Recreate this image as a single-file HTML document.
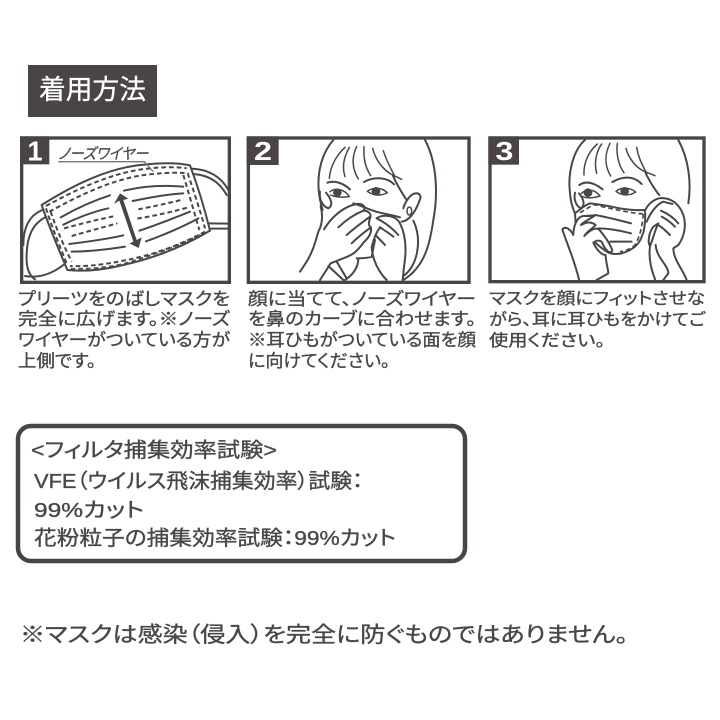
<!DOCTYPE html>
<html lang="ja">
<head>
<meta charset="utf-8">
<title>着用方法</title>
<style>
html,body{margin:0;padding:0;background:#fff;width:720px;height:720px;overflow:hidden}
svg{display:block}
text{font-family:"Liberation Sans","Noto Sans CJK JP",sans-serif;fill:#4a4646;font-feature-settings:"palt"}
.b text{stroke:#4a4646;stroke-width:.35px}
.l{fill:none;stroke:#4a4646;stroke-width:6;stroke-linecap:round;stroke-linejoin:round}
.t{fill:none;stroke:#4a4646;stroke-width:4.5;stroke-linecap:round;stroke-linejoin:round}
.d{fill:none;stroke:#4a4646;stroke-width:6;stroke-dasharray:14 9}
.f{fill:#fff}
.num{font-weight:bold}
</style>
</head>
<body>
<svg width="720" height="720" viewBox="0 0 720 720" xmlns="http://www.w3.org/2000/svg">
<rect width="720" height="720" fill="#fff"/>

<!-- header -->
<rect x="28" y="65" width="129" height="52" fill="#4a4444"/>
<text x="39" y="99" font-size="27" textLength="107" lengthAdjust="spacingAndGlyphs" style="fill:#fff;stroke:#fff;stroke-width:.3px">着用方法</text>

<!-- panel 1 -->
<g transform="translate(10,130) scale(.33333)">
  <rect x="35" y="24" width="623" height="433" fill="#fff" stroke="#4a4444" stroke-width="10"/>
  <path class="l" d="M545 116C590 118 630 135 655 180M550 132C590 135 625 150 650 195"/>
  <path class="l" d="M598 280L656 281M604 296L656 296"/>
  <path class="l" d="M97 240C60 255 40 290 40 345M105 262C70 280 52 315 50 370C48 410 55 435 75 448"/>
  <path class="l" d="M160 405C125 432 85 445 45 438"/>
  <path class="l f" d="M95 225C190 165 300 110 410 103C460 98 505 98 540 106C560 160 585 240 600 302C520 350 430 385 340 405C280 420 220 425 172 420C145 355 115 285 95 225Z"/>
  <path class="d" d="M108 228C200 178 310 125 420 115C460 111 500 110 530 115"/>
  <path class="d" d="M118 245C210 195 320 140 430 132C470 128 510 127 535 130"/>
  <path class="d" d="M533 130C550 180 570 240 585 295"/>
  <path class="d" d="M520 135C535 185 552 245 568 300"/>
  <path class="d" d="M585 305C510 345 430 375 340 392C280 405 220 410 180 408"/>
  <path class="d" d="M570 315C500 350 420 378 340 402C280 415 220 418 178 416" opacity=".9"/>
  <path class="d" d="M108 235C125 290 150 350 172 405"/>
  <path class="d" d="M122 245C140 300 165 355 185 395"/>
  <path class="l" d="M152 262C200 235 250 212 300 196M160 284C205 262 250 245 295 235"/>
  <path class="l" d="M342 182C400 168 460 165 520 170M368 213C420 202 470 193 520 190"/>
  <path class="d" d="M162 295C210 282 265 268 315 258"/>
  <path class="d" d="M185 318C230 305 280 292 322 280"/>
  <path class="d" d="M385 238C425 230 475 220 520 208"/>
  <path class="d" d="M382 266C430 258 490 245 535 232"/>
  <path class="l" d="M388 302C440 285 490 265 540 245M408 334C460 315 510 295 565 265"/>
  <path class="l" d="M178 342C235 335 290 328 340 316M185 365C240 365 295 358 345 350"/>
  <path fill="#4a4444" d="M330 190L355 206L340 210L380 330L395 322L386 354L358 340L370 335L328 212L312 222Z"/>
  <path fill="none" stroke="#777" stroke-width="4" d="M145 95H403L430 125"/>
  <rect x="30" y="19" width="88" height="84" fill="#4a4444"/>
  <text class="num" x="52" y="92" font-size="82" style="fill:#fff">1</text>
  <text x="145" y="87" font-size="46" textLength="270" lengthAdjust="spacingAndGlyphs" font-style="italic" style="stroke:#4a4646;stroke-width:.8px">ノーズワイヤー</text>
</g>

<!-- panel 2 -->
<g transform="translate(240,130) scale(.33333)">
  <rect x="25" y="24" width="662" height="433" fill="#fff" stroke="#4a4444" stroke-width="10"/>
  <path class="l" d="M280 30C245 70 232 125 236 180C238 205 242 220 248 240"/>
  <path class="l" d="M555 30C590 95 595 190 580 270C570 340 555 410 490 450"/>
  <path class="t" d="M315 52C290 75 270 110 268 145M328 52C312 80 305 110 315 140M350 50C335 80 335 115 355 147M372 50C370 85 375 110 392 137M398 55C405 85 425 115 452 132L485 148M430 62C440 95 455 120 465 140"/>
  <path class="l" d="M458 135C470 165 490 195 503 215"/>
  <path class="l" d="M262 158C285 150 310 160 330 178"/>
  <path class="l" d="M372 156C400 140 440 140 462 163"/>
  <path class="t" d="M270 185C285 172 315 178 328 200C310 202 285 202 272 195"/>
  <ellipse cx="292" cy="188" rx="13" ry="12" fill="#4a4646"/>
  <path class="t" d="M382 184C400 170 425 172 442 188C425 198 400 198 382 184Z"/>
  <ellipse cx="408" cy="184" rx="13" ry="13" fill="#4a4646"/>
  <rect x="20" y="19" width="96" height="86" fill="#4a4444"/>
  <text class="num" x="42" y="90" font-size="78" textLength="54" lengthAdjust="spacingAndGlyphs" style="fill:#fff">2</text>
</g>
<g transform="translate(300,190) scale(.33333)">
  <path class="l f" d="M305 95C330 92 350 60 362 22C360 5 340 5 325 25C318 35 312 45 310 55"/>
  <ellipse cx="328" cy="63" rx="7" ry="12" class="t"/>
  <path class="l" d="M340 92C368 150 352 230 310 258"/>
  <path class="l" d="M160 40C190 50 210 60 232 66C255 72 280 76 300 82"/>
  <path class="l" d="M170 205C185 205 205 203 218 200M225 150L215 200"/>
  <path class="l" d="M60 5C56 30 70 50 85 55C102 45 92 25 78 8"/>
  <path class="l f" d="M62 48C70 80 66 105 55 125C45 160 38 185 20 215L0 245"/>
  <path class="l" d="M72 118C95 80 130 50 170 42C188 40 200 50 190 62C205 62 216 72 210 85C205 98 206 108 213 115C215 130 205 145 190 158C182 170 172 182 158 192C135 205 110 212 92 220L60 270"/>
  <path class="l" d="M115 112C140 88 165 72 190 62M140 135C165 112 190 95 210 80M155 160C175 140 195 125 213 112"/>
  <path class="l" d="M230 85C250 70 290 78 300 100C315 130 322 170 312 230L308 270"/>
  <path class="l" d="M230 85C250 95 275 112 295 135M240 112C255 122 268 130 280 140M226 135C236 145 246 155 255 165"/>
  <path class="l" d="M215 172C220 150 226 130 240 112M215 172C218 210 235 245 260 270"/>
  <path class="l" d="M85 228L130 270M110 215L140 265M175 205C175 240 150 260 135 270"/>
</g>

<!-- panel 3 -->
<g transform="translate(480,130) scale(.33333)">
  <rect x="30" y="24" width="642" height="431" fill="#fff" stroke="#4a4444" stroke-width="10"/>
  <path class="l" d="M315 30C280 60 262 130 270 190C272 215 278 235 285 250"/>
  <path class="l" d="M595 30C625 85 635 155 625 220"/>
  <path class="t" d="M352 42C325 65 310 100 312 135M365 42C348 65 342 100 350 130M390 40C375 70 372 105 392 138M412 40C408 70 415 105 432 128M438 55C445 85 470 115 495 125L525 137M470 52C475 85 490 110 500 130"/>
  <path class="l" d="M497 130C510 155 525 180 538 195"/>
  <path class="l" d="M298 165C320 150 345 160 368 178"/>
  <path class="l" d="M397 156C425 140 460 135 485 162"/>
  <path class="t" d="M305 190C320 175 345 178 360 198C340 205 320 205 308 200"/>
  <ellipse cx="324" cy="188" rx="13" ry="13" fill="#4a4646"/>
  <path class="t" d="M408 184C425 170 448 172 467 186C450 198 425 198 408 184Z"/>
  <ellipse cx="434" cy="184" rx="13" ry="13" fill="#4a4646"/>
  <rect x="25" y="19" width="92" height="85" fill="#4a4444"/>
  <text class="num" x="46" y="90" font-size="78" textLength="54" lengthAdjust="spacingAndGlyphs" style="fill:#fff">3</text>
</g>
<g transform="translate(555,190) scale(.33333)">
  <path class="l" d="M60 8C55 30 65 50 78 55C92 45 85 25 72 10"/>
  <path class="l f" d="M60 70C80 55 90 45 105 40C125 42 150 46 170 50C205 58 240 62 270 60C272 90 268 125 262 135C255 160 235 180 200 190C185 193 170 192 160 188C130 170 90 130 62 100Z"/>
  <path class="d" d="M75 68C90 60 105 48 120 44C135 48 150 52 170 56C205 64 240 70 265 72" style="stroke-width:5"/>
  <path class="d" d="M265 72C262 100 258 135 240 165C225 178 210 183 195 185" style="stroke-width:5"/>
  <path class="l" d="M120 75C150 80 190 90 228 100M130 115C160 115 190 120 228 130M165 155L230 155"/>
  <path class="l f" d="M22 118C30 108 45 115 55 135C55 110 65 80 85 78L120 76C105 88 85 95 78 105C95 95 110 95 122 105C110 118 95 125 88 138C105 120 125 108 135 122C150 140 165 160 172 182C165 195 150 180 140 155C132 150 125 150 115 158C125 180 140 195 152 195C152 215 160 240 160 250L125 270M22 118C35 160 55 200 72 268"/>
  <path class="l f" d="M270 62C280 40 300 25 320 24C350 25 372 40 385 75C395 105 388 140 370 165L355 175C355 210 385 240 395 270"/>
  <path class="l" d="M275 95C290 60 310 40 325 35L352 42M318 62C340 72 358 85 370 100M320 80C335 88 350 100 360 110M310 105C322 112 335 125 345 135"/>
  <path class="l f" d="M310 100C298 125 295 145 285 168C278 158 280 130 295 110Z"/>
  <path class="l" d="M285 168C280 210 290 240 300 268M302 165C305 205 340 225 340 250L325 270"/>
</g>

<!-- captions -->
<g class="b" font-size="17.5">
  <text x="18" y="305" textLength="212" lengthAdjust="spacingAndGlyphs">プリーツをのばしマスクを</text>
  <text x="18" y="325" textLength="212" lengthAdjust="spacingAndGlyphs">完全に広げます。※ノーズ</text>
  <text x="18" y="346" textLength="212" lengthAdjust="spacingAndGlyphs">ワイヤーがついている方が</text>
  <text x="18" y="367" textLength="78" lengthAdjust="spacingAndGlyphs">上側です。</text>

  <text x="248" y="305" textLength="228" lengthAdjust="spacingAndGlyphs">顔に当てて、ノーズワイヤー</text>
  <text x="248" y="325" textLength="228" lengthAdjust="spacingAndGlyphs">を鼻のカーブに合わせます。</text>
  <text x="248" y="346" textLength="228" lengthAdjust="spacingAndGlyphs">※耳ひもがついている面を顔</text>
  <text x="248" y="367" textLength="142" lengthAdjust="spacingAndGlyphs">に向けてください。</text>

  <text x="489" y="304" font-size="16.6" textLength="216" lengthAdjust="spacingAndGlyphs">マスクを顔にフィットさせな</text>
  <text x="489" y="325" font-size="16.6" textLength="216" lengthAdjust="spacingAndGlyphs">がら、耳に耳ひもをかけてご</text>
  <text x="489" y="346" font-size="16.6" textLength="116" lengthAdjust="spacingAndGlyphs">使用ください。</text>
</g>

<!-- filter box -->
<rect x="18" y="426" width="447" height="135" rx="13" ry="13" fill="#fff" stroke="#4a4444" stroke-width="4.5"/>
<g class="b" font-size="20.5">
  <text x="31" y="457" textLength="246" lengthAdjust="spacingAndGlyphs">&lt;フィルタ捕集効率試験&gt;</text>
  <text x="34" y="488" textLength="329" lengthAdjust="spacingAndGlyphs">VFE（ウイルス飛沫捕集効率）試験：</text>
  <text x="34" y="517" textLength="110" lengthAdjust="spacingAndGlyphs">99%カット</text>
  <text x="34" y="545" textLength="362" lengthAdjust="spacingAndGlyphs">花粉粒子の捕集効率試験：99%カット</text>
</g>

<!-- note -->
<g class="b"><text x="20" y="642" font-size="21.7" textLength="608" lengthAdjust="spacingAndGlyphs">※マスクは感染（侵入）を完全に防ぐものではありません。</text></g>
</svg>
</body>
</html>
